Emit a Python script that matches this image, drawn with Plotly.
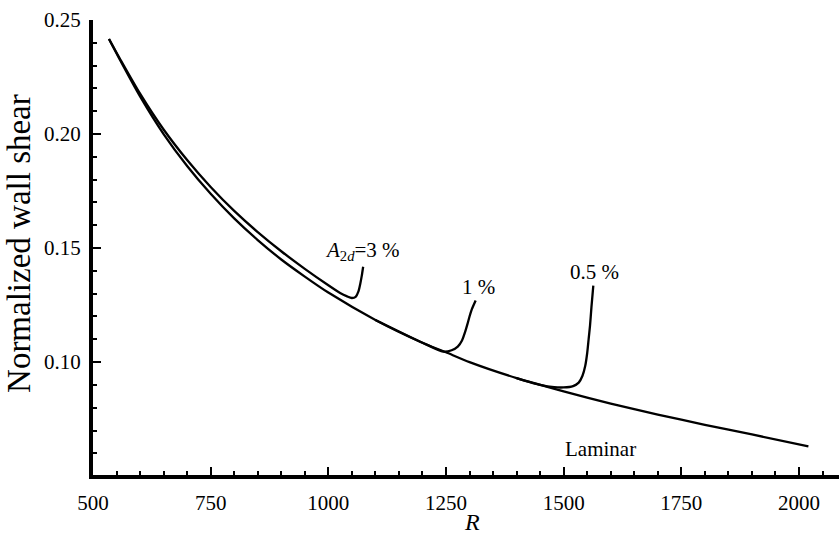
import plotly.graph_objects as go

# ---- data ----
R_lam = [534, 560, 600, 650, 700, 750, 800, 850, 900, 950, 1000, 1100, 1200, 1250,
         1300, 1400, 1500, 1600, 1700, 1800, 1900, 2020]
tau_lam = [0.2417, 0.2315, 0.2165, 0.2000, 0.1860, 0.1738, 0.1630, 0.1535, 0.1450,
           0.1375, 0.1305, 0.1185, 0.1085, 0.1043, 0.1000, 0.0930, 0.0872, 0.0818,
           0.0770, 0.0725, 0.0683, 0.0630]

R_3 = [534, 560, 600, 650, 700, 750, 800, 850, 900, 950, 1000, 1025, 1040, 1050,
       1058, 1064, 1068, 1071, 1074]
tau_3 = [0.2417, 0.2320, 0.2177, 0.2020, 0.1886, 0.1768, 0.1663, 0.1570, 0.1486,
         0.1409, 0.1337, 0.1303, 0.1288, 0.1281, 0.1286, 0.1310, 0.1345, 0.1378, 0.1418]

R_1 = [1100, 1200, 1244, 1262, 1275, 1284, 1291, 1296, 1300, 1305, 1313]
tau_1 = [0.1185, 0.1085, 0.1046, 0.1052, 0.1068, 0.1095, 0.1135, 0.1170, 0.1200,
         0.1232, 0.1270]

R_05 = [1400, 1450, 1480, 1500, 1520, 1532, 1540, 1546, 1550, 1553, 1556, 1559, 1563]
tau_05 = [0.0930, 0.0900, 0.0890, 0.0889, 0.0895, 0.0910, 0.0940, 0.0985, 0.1040,
          0.1100, 0.1160, 0.1240, 0.1335]

x_ticks = [500, 750, 1000, 1250, 1500, 1750, 2000]
y_ticks = [0.10, 0.15, 0.20, 0.25]

labels = [
    ("<i>A</i><sub>2<i>d</i></sub>=3 %", 1073, 0.1485),
    ("1 %", 1318, 0.1330),
    ("0.5 %", 1566, 0.1397),
    ("Laminar", 1579, 0.0620),
]

FONT = "Liberation Serif, Times New Roman, serif"

fig = go.Figure()
for xs, ys in [(R_lam, tau_lam), (R_3, tau_3), (R_1, tau_1), (R_05, tau_05)]:
    fig.add_trace(go.Scatter(x=xs, y=ys, mode="lines",
                             line=dict(color="black", width=2.3, shape="spline", smoothing=0.6),
                             showlegend=False, hoverinfo="skip"))

for txt, x, y in labels:
    fig.add_annotation(x=x, y=y, text=txt, showarrow=False,
                       font=dict(family=FONT, size=21, color="black"))

# axis titles as paper-positioned annotations
fig.add_annotation(xref="paper", yref="paper", x=-0.0992, y=0.51, text="Normalized wall shear",
                   textangle=-90, showarrow=False, xanchor="center", yanchor="middle",
                   font=dict(family=FONT, size=33, color="black"))
fig.add_annotation(xref="paper", yref="paper", x=0.508, y=-0.104, text="<i>R</i>",
                   showarrow=False, xanchor="center", yanchor="middle",
                   font=dict(family=FONT, size=24, color="black"))

axis_common = dict(showline=True, linewidth=4, linecolor="black", mirror=False,
                   showgrid=False, zeroline=False, ticks="inside", ticklen=8,
                   tickwidth=1.5, tickcolor="black", automargin=False,
                   tickfont=dict(family=FONT, size=21, color="black"))

fig.update_xaxes(**axis_common, range=[500, 2085], tickvals=x_ticks,
                 ticktext=[str(v) for v in x_ticks], ticklabelstandoff=6,
                 minor=dict(ticks="inside", ticklen=4, dtick=50, tick0=500,
                            tickcolor="black", tickwidth=1.5))
fig.update_yaxes(**axis_common, range=[0.0505, 0.25], tickvals=y_ticks,
                 ticktext=[f"{v:.2f}" for v in y_ticks], ticklabelstandoff=4,
                 minor=dict(ticks="inside", ticklen=4, dtick=0.01, tick0=0.05,
                            tickcolor="black", tickwidth=1.5))

fig.update_layout(width=839, height=535, margin=dict(l=93, r=0, t=20, b=60),
                  plot_bgcolor="white", paper_bgcolor="white")

fig.write_html("out.html")
